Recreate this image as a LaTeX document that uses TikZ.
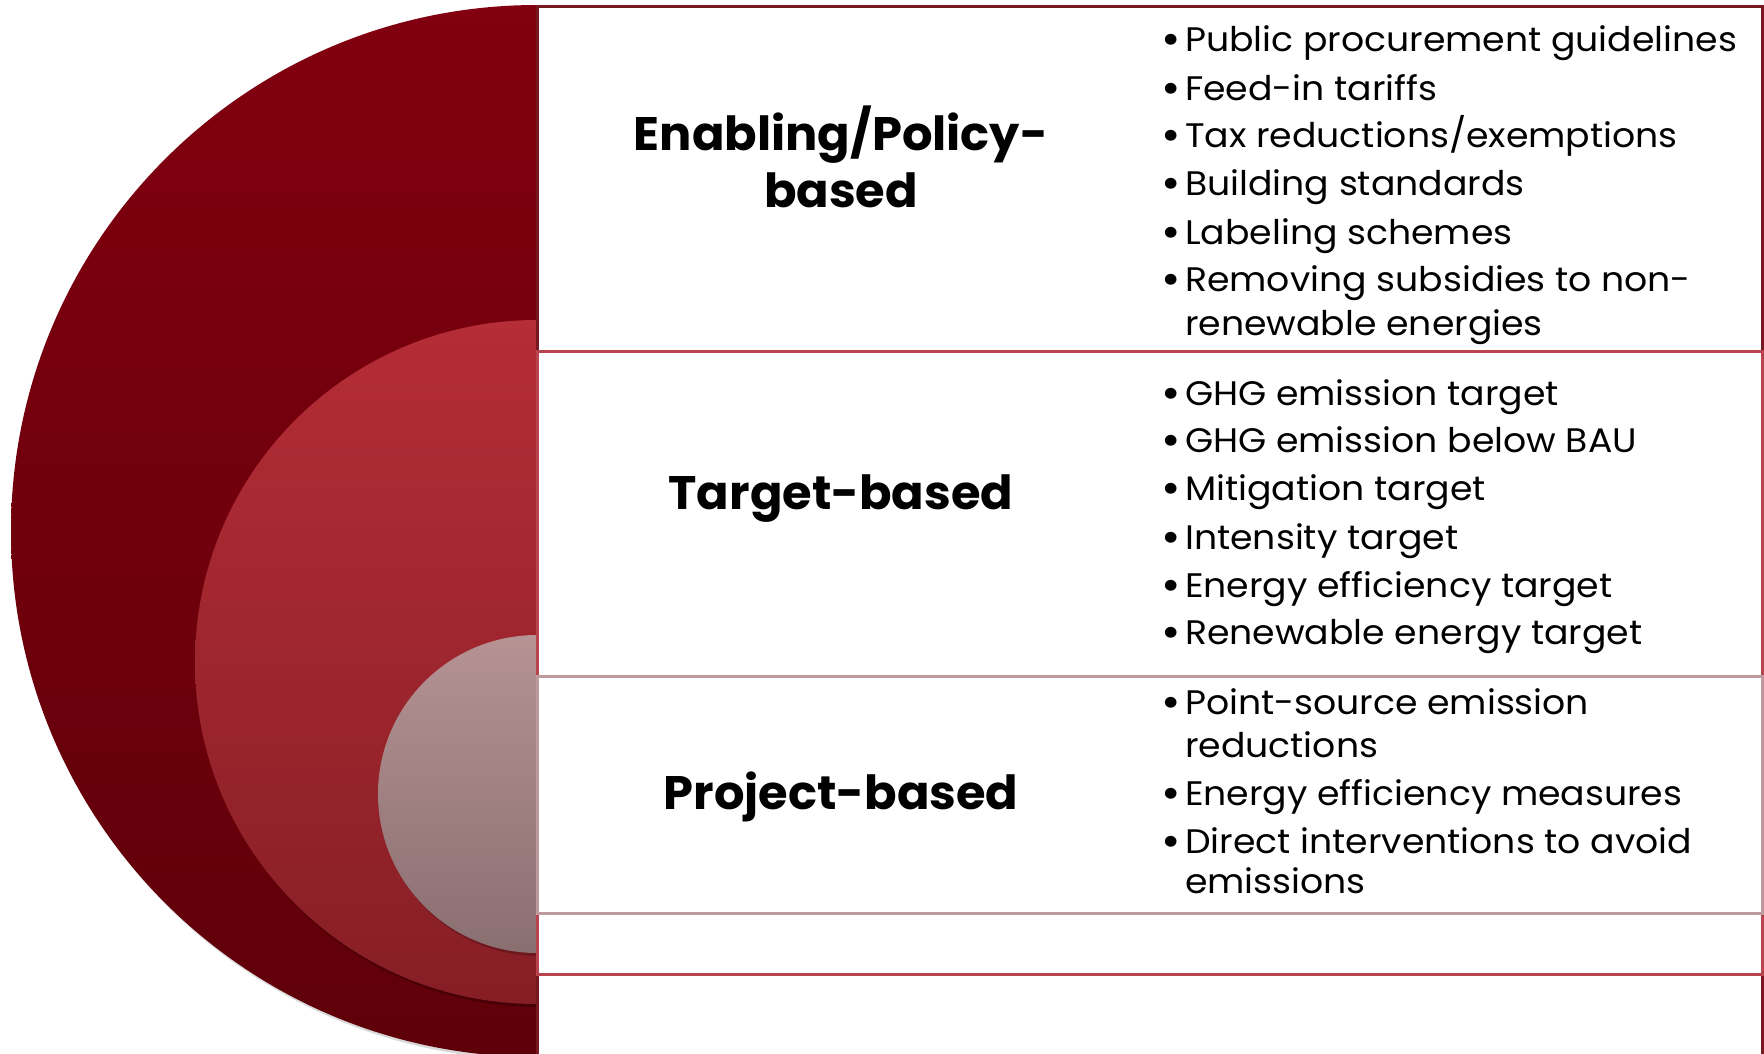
\documentclass[tikz,border=0pt]{standalone}
\usepackage{fontspec}
\setmainfont{Poppins}
\newfontfamily\itemfont[FakeStretch=1.065]{Poppins}
\newfontfamily\headfont[FakeStretch=1.02]{Poppins Bold}
\definecolor{outerTop}{HTML}{820010}
\definecolor{outerBot}{HTML}{5E0008}
\definecolor{midTop}{HTML}{B52D36}
\definecolor{midBot}{HTML}{861E25}
\definecolor{inTop}{HTML}{B69293}
\definecolor{inBot}{HTML}{8A6F71}
\definecolor{boxA}{HTML}{7A1822}
\definecolor{boxB}{HTML}{B9444D}
\definecolor{boxC}{HTML}{BF9A9C}
\newcommand\bul{\makebox[20pt][l]{\hspace{-3.5pt}\raisebox{-3pt}{\scalebox{1.3}{•}}}}
\begin{document}
\begin{tikzpicture}[x=1pt,y=-1pt,
  heading/.style={font=\headfont\fontsize{47}{57}\selectfont, align=center, inner sep=0},
  item/.style={font=\itemfont\fontsize{34}{38}\selectfont, anchor=mid west, inner sep=0},
  boxframe/.style={fill=white, line width=3pt}]
\useasboundingbox (0,0) rectangle (1764,1053);
\clip (0,0) rectangle (1764,1053);
% nested half discs
\fill[black, opacity=0.15] (539,8) arc[start angle=90,end angle=270,radius=526pt] -- cycle;
\shade[top color=outerTop,bottom color=outerBot] (537,5) arc[start angle=90,end angle=270,radius=526pt] -- cycle;
\fill[black, opacity=0.25] (539,323) arc[start angle=90,end angle=270,radius=342pt] -- cycle;
\shade[top color=midTop,bottom color=midBot] (537,320) arc[start angle=90,end angle=270,radius=342pt] -- cycle;
\fill[black, opacity=0.2] (539,638) arc[start angle=90,end angle=270,radius=159pt] -- cycle;
\shade[top color=inTop,bottom color=inBot] (537,635) arc[start angle=90,end angle=270,radius=159pt] -- cycle;
% nested boxes
\draw[boxframe, draw=boxA] (537,6) rectangle (1762,1080);
\draw[boxframe, draw=boxB] (537,351) rectangle (1762,974);
\draw[boxframe, draw=boxC] (537,676) rectangle (1762,913);
% headings
\node[heading] (h1) at (841,157) {Enabling/Policy-\\based};
\node[heading] (h2) at (841,499) {Target-based};
\node[heading] (h3) at (841,797) {Project-based};
% items level 1
\node[item] (a1) at (1165,49) {\bul Public procurement guidelines};
\node[item] (a2) at (1165,98) {\bul Feed-in tariffs};
\node[item] (a3) at (1165,145) {\bul Tax reductions/exemptions};
\node[item] (a4) at (1165,193) {\bul Building standards};
\node[item] (a5) at (1165,242) {\bul Labeling schemes};
\node[item] (a6) at (1165,289) {\bul Removing subsidies to non-};
\node[item] (a6b) at (1185,333) {renewable energies};
% items level 2
\node[item] (b1) at (1165,403) {\bul GHG emission target};
\node[item] (b2) at (1165,450) {\bul GHG emission below BAU};
\node[item] (b3) at (1165,498) {\bul Mitigation target};
\node[item] (b4) at (1165,547) {\bul Intensity target};
\node[item] (b5) at (1165,595) {\bul Energy efficiency target};
\node[item] (b6) at (1165,642) {\bul Renewable energy target};
% items level 3
\node[item] (c1) at (1165,712) {\bul Point-source emission};
\node[item] (c1b) at (1185,755) {reductions};
\node[item] (c2) at (1165,803) {\bul Energy efficiency measures};
\node[item] (c3) at (1165,851) {\bul Direct interventions to avoid};
\node[item] (c3b) at (1185,891) {emissions};
\end{tikzpicture}
\end{document}
